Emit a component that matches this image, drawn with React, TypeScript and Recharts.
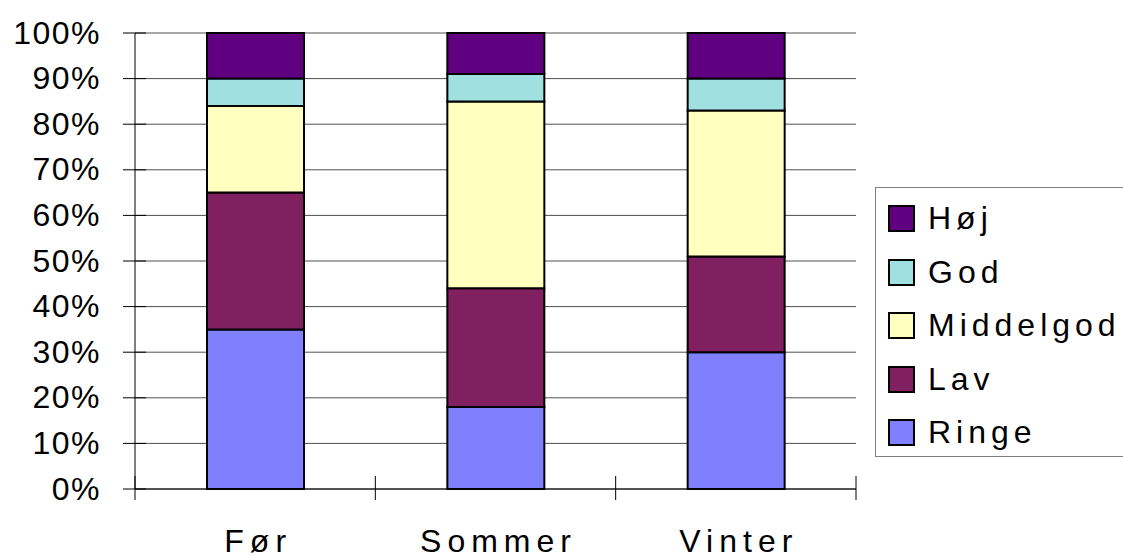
import { Bar, BarChart, CartesianGrid, Legend, XAxis, YAxis } from "recharts";

const categories = ["Før", "Sommer", "Vinter"];
const ringe = [35, 18, 30];
const lav = [30, 26, 21];
const middelgod = [19, 41, 32];
const god = [6, 6, 7];
const hoej = [10, 9, 10];
const yTicks = [0, 10, 20, 30, 40, 50, 60, 70, 80, 90, 100];

const series = [
  { key: "ringe", name: "Ringe", color: "#8080FF" },
  { key: "lav", name: "Lav", color: "#802060" },
  { key: "middelgod", name: "Middelgod", color: "#FFFFC0" },
  { key: "god", name: "God", color: "#A0E0E0" },
  { key: "hoej", name: "Høj", color: "#600080" },
];

const data = categories.map((name, i) => ({
  name,
  ringe: ringe[i],
  lav: lav[i],
  middelgod: middelgod[i],
  god: god[i],
  hoej: hoej[i],
}));

const W = 1123;
const H = 558;
const margin = { top: 33, right: 267, bottom: 29, left: 75 };
const plotWidth = W - margin.left - 60 - margin.right;
const halfBand = plotWidth / categories.length / 2;
const font = "'Liberation Sans', Arial, sans-serif";

function YTick({ x, y, payload }: any) {
  return (
    <g>
      <line x1={x - 12} x2={x + 11} y1={y} y2={y} stroke="#000" strokeWidth={1} />
      <text
        x={x - 34}
        y={y}
        dy="0.33em"
        textAnchor="end"
        fontFamily={font}
        fontSize={32}
        letterSpacing={1.5}
        fill="#000"
      >
        {payload.value}%
      </text>
    </g>
  );
}

function XTick({ x, y, payload, index }: any) {
  return (
    <g>
      <line x1={x - halfBand} x2={x - halfBand} y1={y - 13} y2={y + 11} stroke="#000" />
      {index === categories.length - 1 && (
        <line x1={x + halfBand} x2={x + halfBand} y1={y - 13} y2={y + 11} stroke="#000" />
      )}
      <text
        x={x + 3}
        y={y + 63}
        textAnchor="middle"
        fontFamily={font}
        fontSize={32}
        letterSpacing={6}
        fill="#000"
      >
        {payload.value}
      </text>
    </g>
  );
}

function LegendBox() {
  const items = [...series].reverse();
  return (
    <div
      style={{
        width: 256,
        height: 270,
        border: "1px solid #808080",
        background: "#fff",
        boxSizing: "border-box",
        paddingTop: 4,
        fontFamily: font,
      }}
    >
      {items.map((it) => (
        <div
          key={it.key}
          style={{ height: 53.5, display: "flex", alignItems: "center", paddingLeft: 12 }}
        >
          <span
            style={{
              width: 23,
              height: 23,
              border: "2px solid #000",
              background: it.color,
              display: "inline-block",
              flex: "none",
            }}
          />
          <span style={{ marginLeft: 13, fontSize: 32, letterSpacing: 5, color: "#000", whiteSpace: "nowrap" }}>
            {it.name}
          </span>
        </div>
      ))}
    </div>
  );
}

export default function App() {
  return (
    <div style={{ position: "absolute", left: 0, top: 0, width: W, height: H, overflow: "hidden", background: "#fff" }}>
      <BarChart width={W} height={H} data={data} margin={margin} barSize={97}>
        <CartesianGrid vertical={false} stroke="#505050" strokeWidth={1} />
        <XAxis
          dataKey="name"
          height={40}
          tickLine={false}
          tickSize={0}
          tickMargin={0}
          axisLine={{ stroke: "#000" }}
          tick={<XTick />}
          interval={0}
        />
        <YAxis
          width={60}
          domain={[0, 100]}
          ticks={yTicks}
          tickLine={false}
          tickSize={0}
          tickMargin={0}
          axisLine={{ stroke: "#000" }}
          tick={<YTick />}
          interval={0}
        />
        <YAxis yAxisId="right" orientation="right" width={0} tick={false} tickLine={false} axisLine={{ stroke: "#909090", strokeWidth: 2 }} domain={[0, 100]} />
        <Legend
          layout="vertical"
          align="center"
          verticalAlign="middle"
          content={<LegendBox />}
          wrapperStyle={{ position: "absolute", left: 875, top: 187, width: 256, height: 270 }}
        />
        {series.map((s) => (
          <Bar
            key={s.key}
            dataKey={s.key}
            name={s.name}
            stackId="a"
            fill={s.color}
            stroke="#000"
            strokeWidth={2}
            isAnimationActive={false}
          />
        ))}
      </BarChart>
    </div>
  );
}
